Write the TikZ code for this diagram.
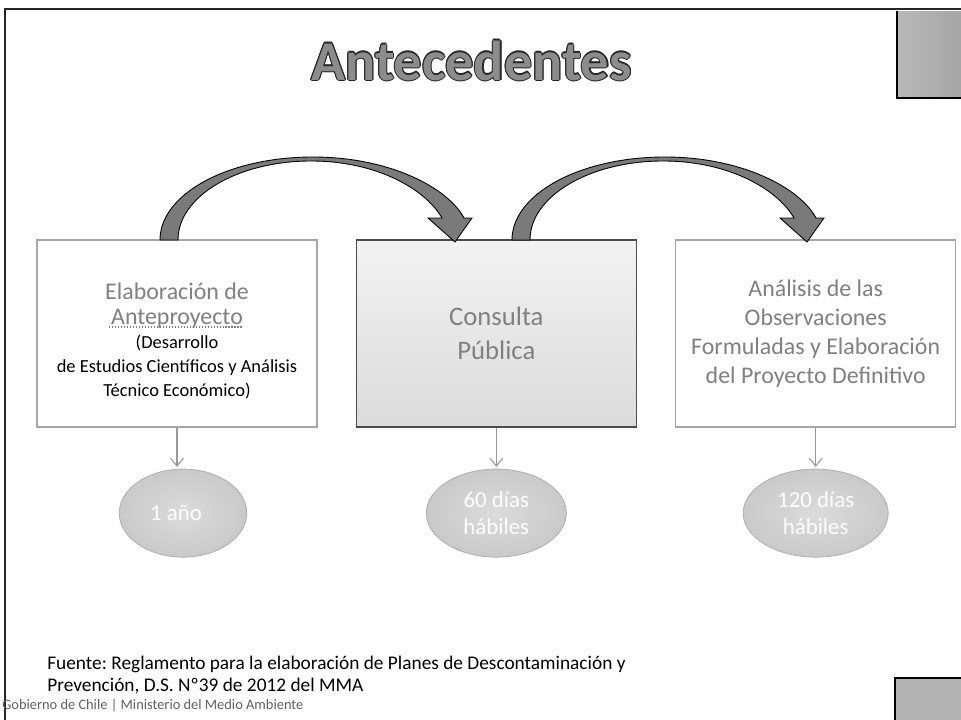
\documentclass[tikz,border=0pt]{standalone}
\usepackage{fontspec}
\setmainfont{Carlito}
\usetikzlibrary{arrows.meta, positioning, shapes.geometric}
\definecolor{boxtext}{HTML}{808080}
\definecolor{arrowgray}{HTML}{7A7A7A}
\tikzset{>={Straight Barb[length=1.6mm,width=2.6mm]}}
\tikzset{
  stage/.style = {draw=gray!70, line width=0.8pt, fill=white, minimum width=5.6cm,
                  minimum height=3.74cm, align=center, text=boxtext, inner sep=0pt},
  pubstage/.style = {stage, draw=black!70, top color=gray!10, bottom color=gray!28},
  term/.style = {ellipse, draw=gray!60, line width=0.5pt, inner color=gray!28, outer color=gray!42,
                 minimum width=2.8cm, minimum height=1.76cm, text=white, align=center,
                 inner sep=0pt, font=\fontsize{13}{15.3}\selectfont},
  link/.style = {->, draw=gray!80, line width=0.6pt, shorten >=1pt},
  bigarrow/.style = {fill=arrowgray, draw=black, line width=0.5pt},
  headline/.style = {anchor=base, font=\fontsize{32}{38}\selectfont\bfseries}
}

\begin{document}
\begin{tikzpicture}[x=0.02cm, y=-0.02cm, node distance = 0.76cm]
		\useasboundingbox (0,0) rectangle (961,720);
		% slide frame
		\draw[line width=1.6pt, black!85] (4,9) -- (961,9);
		\draw[line width=1pt, black!85] (5,9) -- (5,720);
		\fill[left color=gray!55, right color=gray!70] (897,11) rectangle (961,98);
		\draw[line width=0.8pt] (961,98) -- (897,98) -- (897,11);
		\fill[gray!60] (895,678) rectangle (961,720);
		\draw[line width=0.8pt] (895,720) -- (895,678) -- (961,678);
		% title, outlined
		\foreach \a in {0,45,...,315}
		\node[headline, text=black!85, shift={(\a:0.6pt)}] at (471.5,80) {Antecedentes};
		\node (title) [headline, text=gray!90] at (471.5,80) {Antecedentes};
		% stages
		\node (s1) [stage] at (177,333.5) {\rule{0pt}{18pt}\fontsize{13.6}{16}\selectfont Elaboración de\\[2.3pt]
			\fontsize{13.6}{16}\selectfont Anteproyecto\\[1.7pt]
			\fontsize{10.5}{13.6}\selectfont\color{black}(Desarrollo\\[1.7pt]
			\fontsize{10.5}{13.6}\selectfont\color{black}de Estudios Científicos y Análisis\\[1.7pt]
			\fontsize{10.5}{13.6}\selectfont\color{black}Técnico Económico)};
		\draw[boxtext, densely dotted, line width=0.7pt] (109,327) -- (243,327);
		\node (s2) [pubstage, right = of s1, font=\fontsize{15.2}{19}\selectfont] {Consulta\\Pública};
		\node (s3) [stage, right = of s2, font=\fontsize{13.6}{16.4}\selectfont]
			{Análisis de las\\Observaciones\\Formuladas y Elaboración\\del Proyecto Definitivo};
		% durations
		\node (d1) [term, below = 0.82cm of s1, xshift=0.12cm, minimum width=2.55cm] {1 año\hspace{8pt}};
		\node (d2) [term, below = 0.82cm of s2] {60 días\\hábiles};
		\node (d3) [term, below = 0.82cm of s3, minimum width=2.9cm] {120 días\\hábiles};
		\draw[link] (s1.south) -- (s1.south |- d1.north);
		\draw[link] (s2.south) -- (d2.north);
		\draw[link] (s3.south) -- (d3.north);
		% curved arrows between stages
		\foreach \s in {0,352}
		\draw[bigarrow, shift={(\s,0)}] (160,240) .. controls (160,194) and (228,157) .. (313,157)
			.. controls (390,157) and (448,188) .. (464,218) -- (472,218) -- (455,242) -- (428,218)
			-- (442,218) .. controls (426,190) and (378,161) .. (311,161)
			.. controls (238,161) and (178,196) .. (178,240) -- cycle;
		% source
		\node (src) [anchor=west, inner sep=0pt, align=left, font=\fontsize{11}{13}\selectfont\frenchspacing]
			at (47,675) {Fuente: Reglamento para la elaboración de Planes de Descontaminación y\\
			Prevención, D.S. Nº39 de 2012 del MMA};
		\node (gob) [anchor=west, inner sep=0pt, text=gray!75!black, font=\fontsize{8.2}{10}\selectfont]
			at (2,705) {Gobierno de Chile | Ministerio del Medio Ambiente};
\end{tikzpicture}
\end{document}
